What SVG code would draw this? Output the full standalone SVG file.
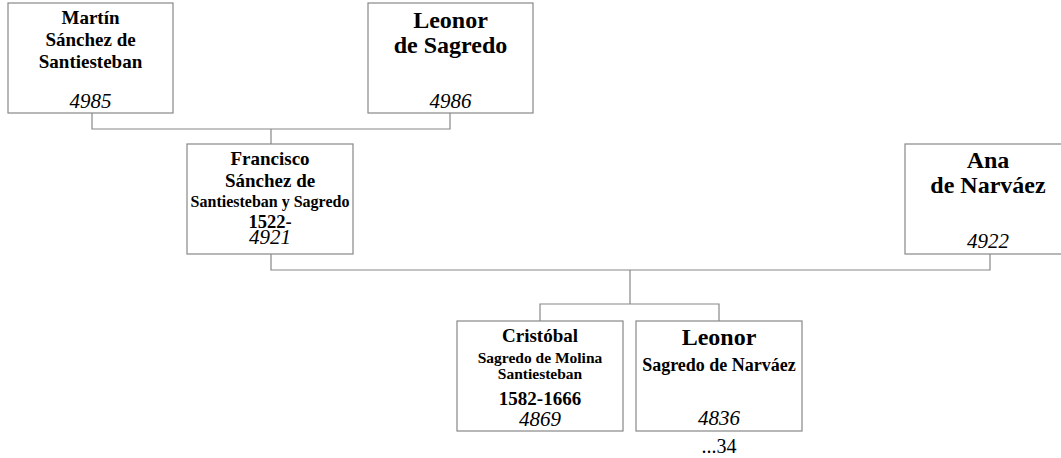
<svg xmlns="http://www.w3.org/2000/svg" width="1061" height="458" viewBox="0 0 1061 458">
<style>
.box{fill:#fff;stroke:#888;stroke-width:1.2}
.ln{fill:none;stroke:#888;stroke-width:1.2}
text{font-family:"Liberation Serif","Times New Roman",serif;fill:#000;text-anchor:middle}
.b{font-weight:bold}
.i{font-style:italic;font-size:21px}
</style>
<rect width="1061" height="458" fill="#fff"/>
<g id="connectors">
<path class="ln" d="M92,113V129H450V113M271,129V144"/>
<path class="ln" d="M271,254V270H990V254M630,270V304M540,321V304H719V321"/>
</g>
<g id="n4985">
<rect class="box" x="8" y="3" width="165" height="110"/>
<text class="b" x="90.5" y="24" font-size="19">Martín</text>
<text class="b" x="90.5" y="46" font-size="19">Sánchez de</text>
<text class="b" x="90.5" y="68" font-size="19">Santiesteban</text>
<text class="i" x="90.5" y="108">4985</text>
</g>
<g id="n4986">
<rect class="box" x="368" y="3" width="165" height="110"/>
<text class="b" x="450.5" y="28" font-size="24">Leonor</text>
<text class="b" x="450.5" y="53" font-size="24">de Sagredo</text>
<text class="i" x="450.5" y="108">4986</text>
</g>
<g id="n4921">
<rect class="box" x="187" y="144" width="166" height="110"/>
<text class="b" x="270" y="165" font-size="19">Francisco</text>
<text class="b" x="270" y="187" font-size="19">Sánchez de</text>
<text class="b" x="270" y="207" font-size="16">Santiesteban y Sagredo</text>
<text class="b" x="270" y="227.5" font-size="18.5">1522-</text>
<text class="i" x="270" y="244">4921</text>
</g>
<g id="n4922">
<rect class="box" x="905" y="144" width="166" height="110"/>
<text class="b" x="988" y="168" font-size="24">Ana</text>
<text class="b" x="988" y="193" font-size="24">de Narváez</text>
<text class="i" x="988" y="248">4922</text>
</g>
<g id="n4869">
<rect class="box" x="457" y="321" width="166" height="110"/>
<text class="b" x="540" y="342" font-size="19">Cristóbal</text>
<text class="b" x="540" y="363" font-size="15.5">Sagredo de Molina</text>
<text class="b" x="540" y="379" font-size="15.5">Santiesteban</text>
<text class="b" x="540" y="405" font-size="19">1582-1666</text>
<text class="i" x="540" y="426">4869</text>
</g>
<g id="n4836">
<rect class="box" x="636" y="321" width="166" height="110"/>
<text class="b" x="719" y="345" font-size="24">Leonor</text>
<text class="b" x="719" y="371" font-size="18">Sagredo de Narváez</text>
<text class="i" x="719" y="425">4836</text>
<text x="719" y="453" font-size="20">...34</text>
</g>
</svg>
